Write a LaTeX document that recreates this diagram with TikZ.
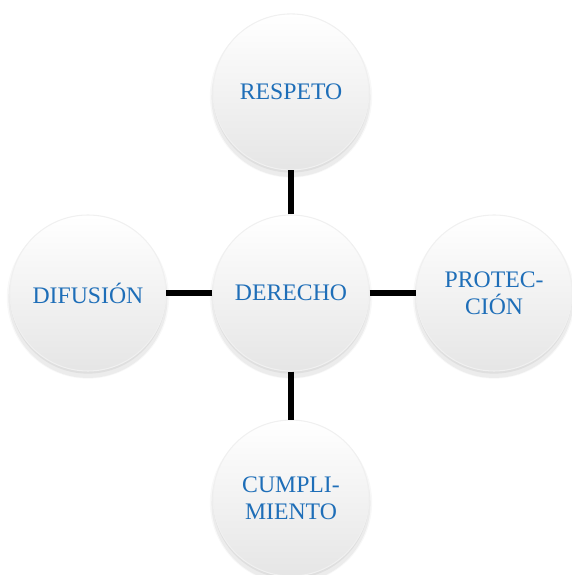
\documentclass[tikz,border=0pt]{standalone}
\usepackage{fontspec}
\setmainfont{Liberation Serif}
\usepackage{tikz}
\usetikzlibrary{shadows,positioning}
\definecolor{azul}{RGB}{30,110,184}

\begin{document}
\begin{tikzpicture}[
  boton/.style={circle, minimum size=3.12cm, inner sep=0pt, align=center,
    font=\fontsize{13.5}{15.5}\selectfont, text=azul,
    top color=white, bottom color=gray!20, draw=gray!12, line width=0.6pt,
    drop shadow={shadow xshift=0pt, shadow yshift=-2.5pt, shadow scale=1.04, opacity=0.06},
    drop shadow={shadow xshift=0pt, shadow yshift=-3pt, shadow scale=1.02, opacity=0.1},
    drop shadow={shadow xshift=0pt, shadow yshift=-1.5pt, opacity=0.12}},
  enlace/.style={line width=3.4pt, black}]
\useasboundingbox (0,0) rectangle (11.42,11.5);
\node[boton] (derecho) at (5.82,5.64) {DERECHO};
\node[boton, above=0.88cm of derecho] (respeto) {RESPETO};
\node[boton, left=0.92cm of derecho] (difusion) {DIFUSIÓN};
\node[boton, right=0.92cm of derecho] (proteccion) {PROTEC-\\CIÓN};
\node[boton, below=0.96cm of derecho] (cumplimiento) {CUMPLI-\\MIENTO};
\draw[enlace] (derecho) -- (respeto);
\draw[enlace] (derecho) -- (difusion);
\draw[enlace] (derecho) -- (proteccion);
\draw[enlace] (derecho) -- (cumplimiento);
\end{tikzpicture}
\end{document}
